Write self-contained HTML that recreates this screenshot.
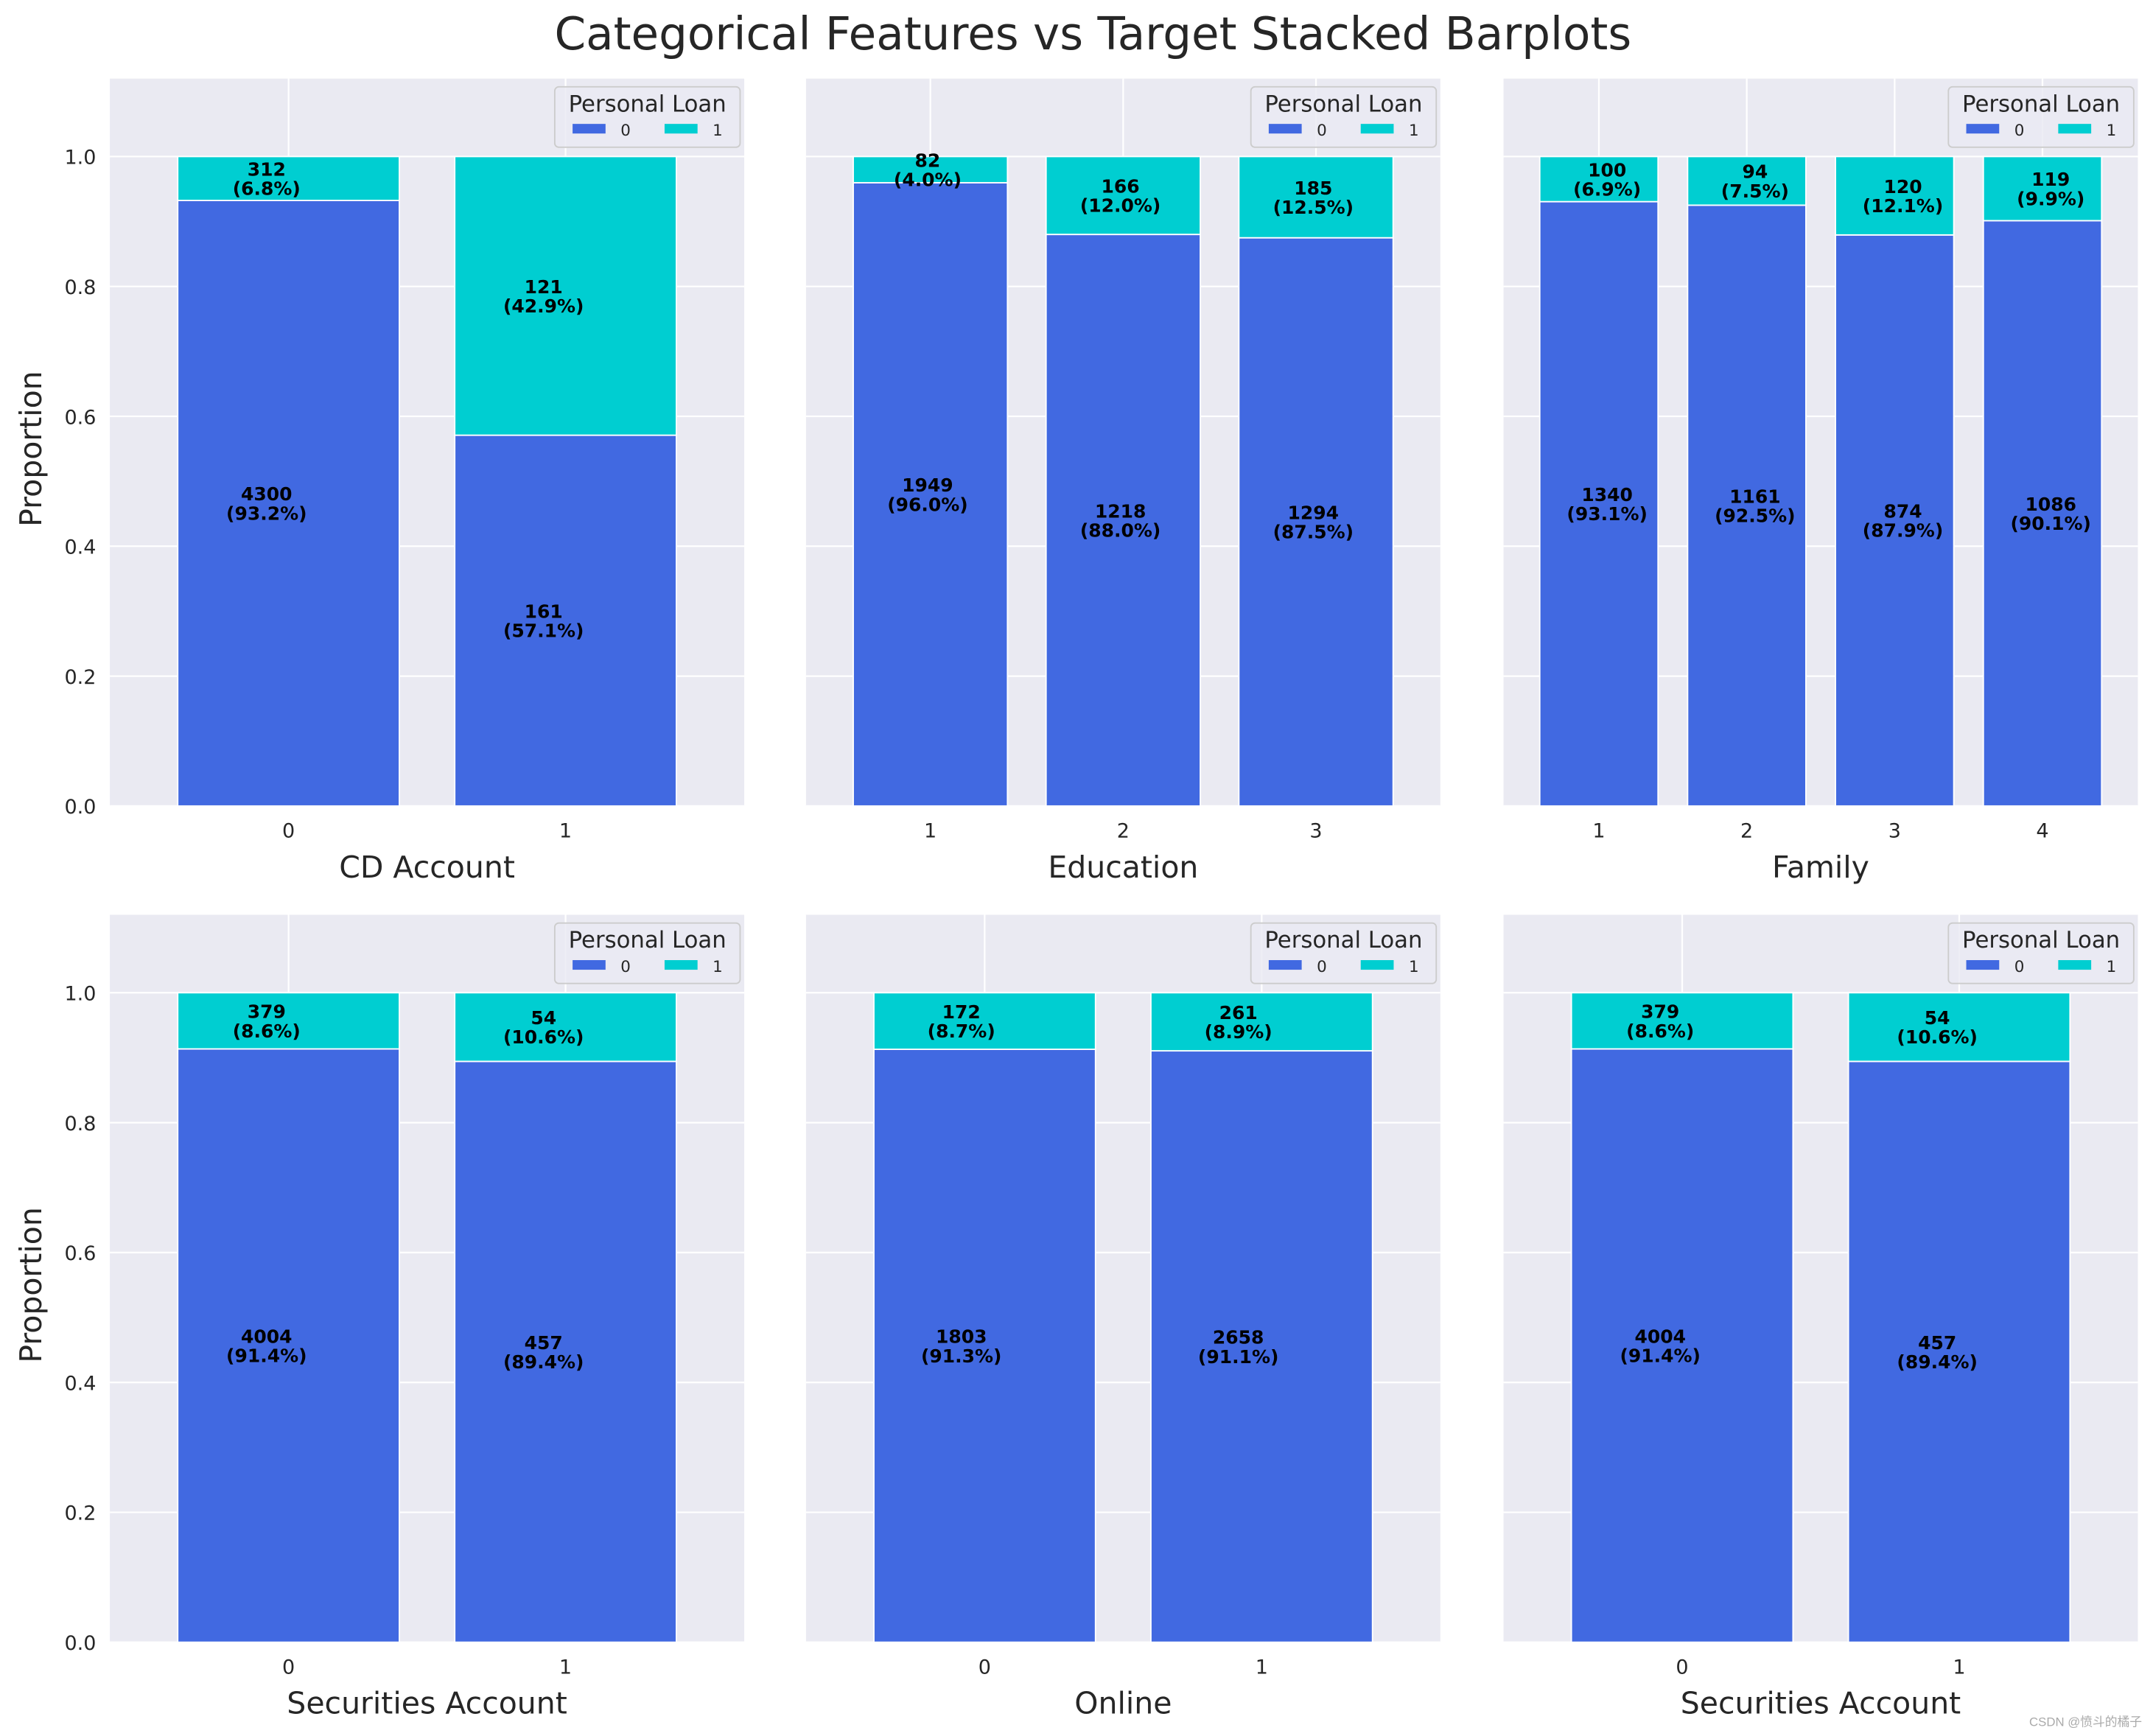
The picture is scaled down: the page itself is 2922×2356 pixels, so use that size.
<!DOCTYPE html>
<html><head><meta charset="utf-8">
<style>html,body{margin:0;padding:0;background:#fff}svg{display:block}</style>
</head><body>
<svg id="fig" width="2922" height="2356" viewBox="0 0 1568 1264.3" xmlns="http://www.w3.org/2000/svg" font-family="DejaVu Sans, Liberation Sans, sans-serif">
<rect width="1568" height="1264.3" fill="#fff"/>
<text x="796" y="36" font-size="32.8" text-anchor="middle" fill="#262626">Categorical Features vs Target Stacked Barplots</text>
<text x="1560" y="1257" font-size="9" text-anchor="end" fill="#aaa" font-family="Liberation Sans, Noto Sans CJK SC, sans-serif">CSDN @愤斗的橘子</text>
</svg>
<script>
const titles = ["CD Account","Education","Family","Securities Account","Online","Securities Account"];
const cats = [["0","1"],["1","2","3"],["1","2","3","4"],["0","1"],["0","1"],["0","1"]];
const noLoan = [[4300,161],[1949,1218,1294],[1340,1161,874,1086],[4004,457],[1803,2658],[4004,457]];
const yesLoan = [[312,121],[82,166,185],[100,94,120,119],[379,54],[172,261],[379,54]];
const yTicks = [0,0.2,0.4,0.6,0.8,1.0];
const yTickLabels = ["0.0","0.2","0.4","0.6","0.8","1.0"];

const NS="http://www.w3.org/2000/svg";
const svg=document.getElementById('fig');
function mk(t,a,p){const e=document.createElementNS(NS,t);for(const k in a)e.setAttribute(k,a[k]);(p||svg).appendChild(e);return e;}
const colX=[80,587,1095], W=462;
const rowZero=[587,1196], unit=473, yMax=1.12;
const labelOff=[-16,-2,6,-16,-17,-16];
for(let p=0;p<6;p++){
  const r=Math.floor(p/3), c=p%3;
  const x0=colX[c], y0=rowZero[r];
  const n=cats[p].length, pad=0.645, span=n-1+2*pad;
  const xs=v=>x0+(v+pad)/span*W;
  const ys=v=>y0-v*unit;
  const g=mk('g',{});
  
  
  const bg=mk('rect',{x:x0,y:ys(yMax),width:W,height:yMax*unit,fill:'#eaeaf2'},g);
  
  
  yTicks.forEach((t,i)=>{
    mk('line',{x1:x0,x2:x0+W,y1:ys(t),y2:ys(t),stroke:'#fff','stroke-width':1.2},g);
    if(c===0){const tl=mk('text',{x:x0-10,y:ys(t)+5.5,'font-size':14.5,'text-anchor':'end',fill:'#262626'},g);tl.textContent=yTickLabels[i];
      
      }
  });
  cats[p].forEach((cat,i)=>{
    mk('line',{x1:xs(i),x2:xs(i),y1:ys(yMax),y2:y0,stroke:'#fff','stroke-width':1.2},g);
    const tl=mk('text',{x:xs(i),y:y0+23,'font-size':14.5,'text-anchor':'middle',fill:'#262626'},g);tl.textContent=cat;
    
    
  });
  const bw=0.8/span*W;
  cats[p].forEach((cat,i)=>{
    const a=noLoan[p][i], b=yesLoan[p][i], tot=a+b, pa=a/tot, pb=b/tot;
    const r0=mk('rect',{x:xs(i)-bw/2,y:ys(pa),width:bw,height:pa*unit,fill:'#4169e1',stroke:'#fff','stroke-width':1},g);
    
    
    const r1=mk('rect',{x:xs(i)-bw/2,y:ys(1),width:bw,height:pb*unit,fill:'#00ced1',stroke:'#fff','stroke-width':1},g);
    
    
    [[a,pa,pa/2],[b,pb,pa+pb/2]].forEach(([cnt,pr,mid])=>{
      const t=mk('text',{x:xs(i)+labelOff[p],y:ys(mid),'font-size':13.4,'font-weight':'bold','text-anchor':'middle',fill:'#000'},g);
      
      
      const s1=mk('tspan',{x:xs(i)+labelOff[p],dy:-2},t);s1.textContent=cnt;
      const s2=mk('tspan',{x:xs(i)+labelOff[p],dy:14},t);s2.textContent='('+(pr*100).toFixed(1)+'%)';
    });
  });
  const xl=mk('text',{x:x0+W/2,y:y0+52,'font-size':22,'text-anchor':'middle',fill:'#262626'},g);xl.textContent=titles[p];
  
  
  if(c===0){const yl=mk('text',{x:0,y:0,'font-size':22,'text-anchor':'middle',fill:'#262626',transform:`translate(30,${ys(0.55)}) rotate(-90)`},g);yl.textContent='Proportion';
    
    }
  const lx=x0+W-138, ly=ys(yMax)+6;
  const lg=mk('g',{},g);
  
  
  mk('rect',{x:lx,y:ly,width:135,height:44,rx:3,fill:'#eaeaf2',stroke:'#cccccc','stroke-width':1,'fill-opacity':0.8},lg);
  const lt=mk('text',{x:lx+67.5,y:ly+18,'font-size':16.5,'text-anchor':'middle',fill:'#262626'},lg);lt.textContent='Personal Loan';
  [['#4169e1','0',lx+13],['#00ced1','1',lx+80]].forEach(([col,lab,ex])=>{
    const e=mk('g',{},lg);
    
    
    mk('rect',{x:ex,y:ly+27,width:24,height:7,fill:col},e);
    const et=mk('text',{x:ex+35,y:ly+35.5,'font-size':11.5,fill:'#262626'},e);et.textContent=lab;
  });
}
</script>
</body></html>
